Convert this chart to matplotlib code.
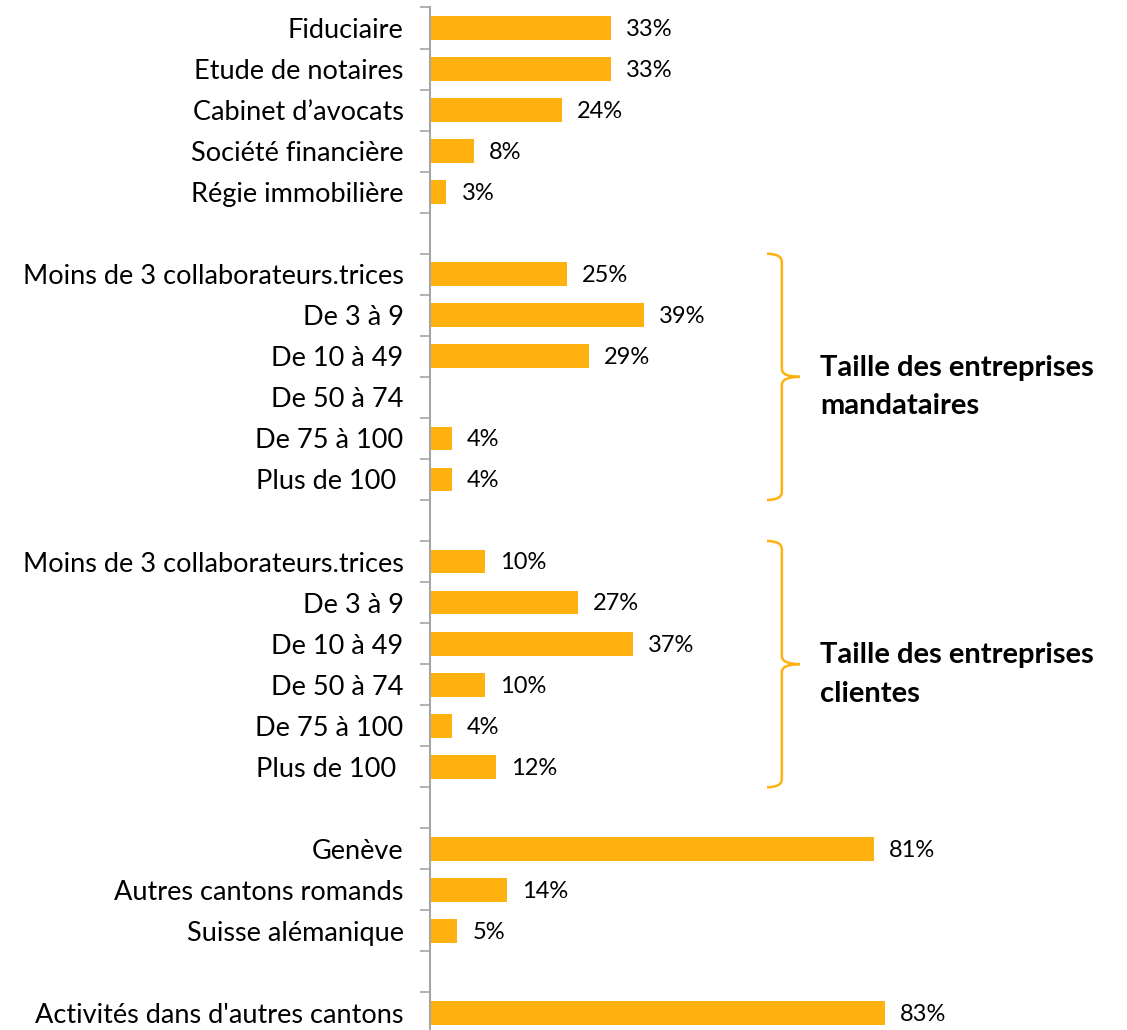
import matplotlib.pyplot as plt
from matplotlib.path import Path
from matplotlib.patches import PathPatch

# catégories ("" = ligne vide entre les blocs)
labels = ["Fiduciaire", "Etude de notaires", "Cabinet d\u2019avocats", "Société financière",
          "Régie immobilière", "",
          "Moins de 3 collaborateurs.trices", "De 3 à 9", "De 10 à 49", "De 50 à 74",
          "De 75 à 100", "Plus de 100 ", "",
          "Moins de 3 collaborateurs.trices", "De 3 à 9", "De 10 à 49", "De 50 à 74",
          "De 75 à 100", "Plus de 100 ", "",
          "Genève", "Autres cantons romands", "Suisse alémanique", "",
          "Activités dans d'autres cantons"]
values = [33, 33, 24, 8, 3, None,
          25, 39, 29, None, 4, 4, None,
          10, 27, 37, 10, 4, 12, None,
          81, 14, 5, None,
          83]
groups = [("Taille des entreprises\nmandataires", 6, 11),
          ("Taille des entreprises\nclientes", 13, 18)]

bar_color = "#FFB110"
grey = "#A6A6A6"

plt.rcParams['font.family'] = ['Lato', 'DejaVu Sans']
fig = plt.figure(figsize=(11.27, 10.30), dpi=100)
ax = fig.add_axes([430 / 1127, -3.5 / 1030, 548 / 1127, 1026 / 1030])

ypos = list(range(len(labels)))
for y, v in zip(ypos, values):
    if v is None:
        continue
    ax.barh(y, v, height=0.58, color=bar_color)
    ax.annotate(f"{v}%", (v, y), xytext=(11, -1), textcoords="offset points",
                va="center", ha="left", fontsize=17, annotation_clip=False)

ax.set_xlim(0, 100)
ax.set_ylim(len(labels) - 0.5, -0.5)

# ticks aux frontières, libellés au centre
ax.set_yticks([i - 0.5 for i in range(len(labels) + 1)])
ax.set_yticklabels([])
ax.set_yticks(ypos, minor=True)
ax.set_yticklabels(labels, minor=True, fontsize=19.5)
ax.tick_params(axis="y", which="major", length=7.5, width=1.2, color=grey)
ax.tick_params(axis="y", which="minor", length=0, pad=19)
ax.set_xticks([])

for s in ["top", "right", "bottom"]:
    ax.spines[s].set_visible(False)
ax.spines["left"].set_color(grey)
ax.spines["left"].set_linewidth(1.5)

# accolades
xl, xv, xt = 61.5, 64.2, 67.5
for text, a, b in groups:
    t, btm = a - 0.5, b + 0.5
    m = (t + btm) / 2
    r = 0.2
    codes = [Path.MOVETO, Path.CURVE3, Path.CURVE3, Path.LINETO, Path.CURVE3, Path.CURVE3,
             Path.MOVETO, Path.CURVE3, Path.CURVE3, Path.LINETO, Path.CURVE3, Path.CURVE3]
    verts = [(xl, t), (xv, t), (xv, t + r), (xv, m - r), (xv, m), (xt, m),
             (xt, m), (xv, m), (xv, m + r), (xv, btm - r), (xv, btm), (xl, btm)]
    ax.add_patch(PathPatch(Path(verts, codes), fill=False, edgecolor=bar_color,
                           linewidth=1.8, clip_on=False))
    ax.text(71.2, m + 0.25, text, fontsize=21, fontweight="bold", va="center", ha="left",
            linespacing=1.6, clip_on=False)

fig.savefig("out.png", dpi=100)
